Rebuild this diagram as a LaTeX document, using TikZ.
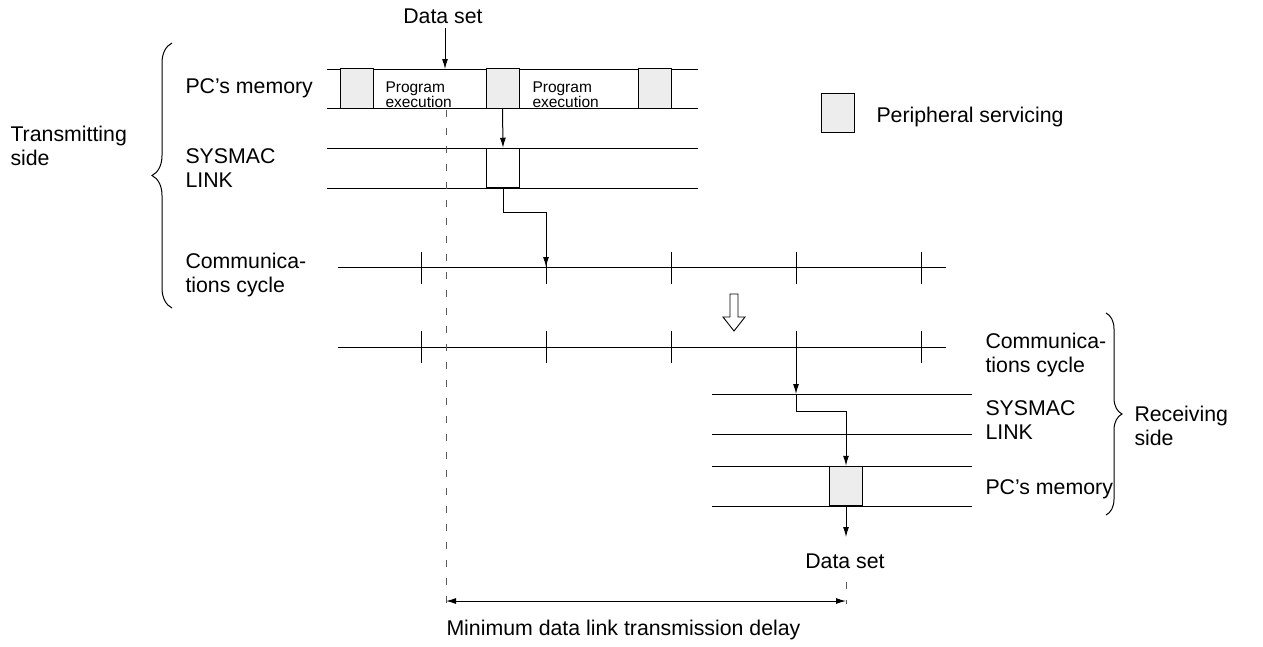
\documentclass[tikz,border=0pt]{standalone}
\usepackage{fontspec}
\setmainfont{Liberation Sans}
\usetikzlibrary{decorations.pathreplacing,arrows.meta}
\begin{document}
\begin{tikzpicture}[x=1pt,y=-1pt, line width=1pt,
  lbl/.style={font=\fontsize{21.3}{23.5}\selectfont, inner sep=0pt, align=left},
  small/.style={font=\fontsize{15.5}{12.5}\selectfont, inner sep=0pt, align=left},
  pbox/.style={draw, fill=black!7, inner sep=0pt, minimum width=33pt, minimum height=39.5pt},
  wbox/.style={draw, fill=white, inner sep=0pt, minimum width=33pt, minimum height=39.5pt},
  arr/.style={-{Latex[length=10pt,width=6pt]}},
  dashln/.style={draw=black!65, dash pattern=on 7pt off 11pt},
  brc/.style={decorate, decoration={brace, amplitude=20pt}},
  tick/.style={line width=1pt}
]
\useasboundingbox (0,0) rectangle (1263,646);

% ---------- transmitting side ----------
\node[lbl] (dstop) at (443,16) {Data set};
\draw (327,69) -- (698,69);
\draw (327,108) -- (698,108);
\node[pbox] (b1) at (356.5,88.5) {};
\node[pbox] (b2) at (502.5,88.5) {};
\node[pbox] (b3) at (654.5,88.5) {};
\node[small, anchor=west] (pe1) at (385,95) {Program\\execution};
\node[small, anchor=west] (pe2) at (532,95) {Program\\execution};
\coordinate (dsin) at (445,28);
\coordinate (memtop) at (445,69);
\draw[arr] (dsin) -- (memtop);

\draw (327,148) -- (698,148);
\draw (327,188) -- (698,188);
\node[wbox] (s1) at (503,168) {};
\draw[arr] (b2.south) -- (s1.north);

\draw (338,267) -- (946,267);
\foreach \x in {421,546,671,796,921} \draw[tick] (\x,252) -- (\x,284);
\coordinate (c1) at (546,267);
\draw[arr] (s1.south) -- (503,212) -| (c1);

% hollow arrow
\draw[line width=0.9pt, fill=white] (730,294) -- (738,294) -- (738,317) -- (745,317) -- (734,331) -- (723,317) -- (730,317) -- cycle;

% ---------- receiving side ----------
\draw (338,347) -- (946,347);
\foreach \x in {421,546,671,796,921} \draw[tick] (\x,331) -- (\x,363);
\draw (712,394) -- (972,394);
\draw (712,434) -- (972,434);
\draw (712,466) -- (972,466);
\draw (712,506) -- (972,506);
\node[pbox] (r1) at (846,486) {};
\coordinate (c2) at (796,347);
\coordinate (rs) at (796,394);
\draw[arr] (c2) -- (rs);
\draw[arr] (rs) -- (796,411) -| (r1.north);
\node[lbl] (dsbot) at (845,561) {Data set};
\draw[arr] (r1.south) -- (846,537);

% ---------- delay ----------
\draw[dashln] (446,110) -- (446,613);
\draw[dashln] (846,582) -- (846,604);
\coordinate (dl) at (446,601);
\coordinate (dr) at (846,601);
\draw[{Latex[length=10pt,width=6pt]}-{Latex[length=10pt,width=6pt]}] (dl) -- (dr);
\node[lbl, anchor=west] (delay) at (446,630) {Minimum data link transmission delay};

% ---------- legend ----------
\node[pbox] (leg) at (837.5,113) {};
\node[lbl, anchor=west] (legt) at (876,117) {Peripheral servicing};

% ---------- labels ----------
\node[lbl, anchor=west] (l1) at (185,88) {PC’s memory};
\node[lbl, anchor=west] (l2) at (185,168) {SYSMAC\\LINK};
\node[lbl, anchor=west] (l3) at (185,275) {Communica-\\tions cycle};
\node[lbl, anchor=west] (tx) at (10,146) {Transmitting\\side};
\draw[brc] (172,308) -- (172,43);

\node[lbl, anchor=west] (r3) at (985,355) {Communica-\\tions cycle};
\node[lbl, anchor=west] (r2) at (985,420) {SYSMAC\\LINK};
\node[lbl, anchor=west] (r1l) at (985,489) {PC’s memory};
\node[lbl, anchor=west] (rx) at (1134,426) {Receiving\\side};
\draw[decorate, decoration={brace, amplitude=16pt}] (1106,313) -- (1106,515);
\end{tikzpicture}
\end{document}
